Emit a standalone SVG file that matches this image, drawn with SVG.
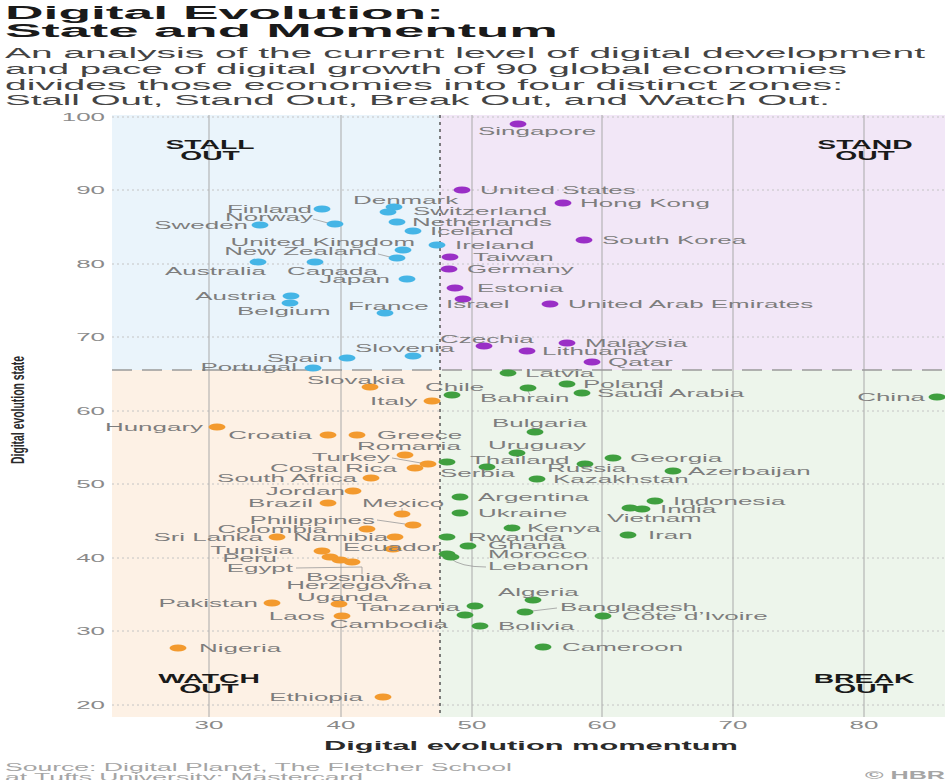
<svg xmlns="http://www.w3.org/2000/svg" width="945" height="780" viewBox="0 0 945 780">
<style>
.t{font-family:"Liberation Sans",Arial,sans-serif;font-size:11px;fill:#7d7d7d}
.e{text-anchor:end}
.m{text-anchor:middle}
.q{font-family:"Liberation Sans",Arial,sans-serif;font-size:12px;font-weight:bold;fill:#1a1a1a;text-anchor:middle}
.db{fill:#45b5e6}.dp{fill:#9a2fc6}.do{fill:#f39a2e}.dg{fill:#3f9f3f}
.tk{font-family:"Liberation Sans",Arial,sans-serif;font-size:11px;fill:#8a8a8a}
</style>
<rect width="945" height="780" fill="#ffffff"/>
<!-- title -->
<g id="title" font-family="'Liberation Sans',Arial,sans-serif">
<text x="5" y="19" font-size="18" font-weight="bold" fill="#1a1a1a" textLength="439" lengthAdjust="spacingAndGlyphs">Digital Evolution:</text>
<text x="5" y="37" font-size="18" font-weight="bold" fill="#1a1a1a" textLength="553" lengthAdjust="spacingAndGlyphs">State and Momentum</text>
<text x="5" y="58" font-size="14" fill="#444" textLength="920" lengthAdjust="spacingAndGlyphs">An analysis of the current level of digital development</text>
<text x="5" y="74" font-size="14" fill="#444" textLength="842" lengthAdjust="spacingAndGlyphs">and pace of digital growth of 90 global economies</text>
<text x="5" y="90" font-size="14" fill="#444" textLength="838" lengthAdjust="spacingAndGlyphs">divides those economies into four distinct zones:</text>
<text x="5" y="105" font-size="14" fill="#444" textLength="825" lengthAdjust="spacingAndGlyphs">Stall Out, Stand Out, Break Out, and Watch Out.</text>
</g>
<!-- plot background -->
<g id="quadrants">
<rect x="112" y="115" width="328" height="255" fill="#eaf4fb"/>
<rect x="440" y="115" width="505" height="255" fill="#f2e7f7"/>
<rect x="112" y="370" width="328" height="347" fill="#fdf1e5"/>
<rect x="440" y="370" width="505" height="347" fill="#edf5eb"/>
</g>
<g id="grid" fill="none">
<g stroke="#c4c4c4" stroke-width="1" stroke-dasharray="2 3">
<line x1="112" y1="117" x2="945" y2="117"/><line x1="112" y1="190" x2="945" y2="190"/><line x1="112" y1="264" x2="945" y2="264"/><line x1="112" y1="337" x2="945" y2="337"/><line x1="112" y1="411" x2="945" y2="411"/><line x1="112" y1="484" x2="945" y2="484"/><line x1="112" y1="558" x2="945" y2="558"/><line x1="112" y1="631" x2="945" y2="631"/><line x1="112" y1="705" x2="945" y2="705"/>
</g>
<g stroke="#a9a9a9" stroke-width="1">
<line x1="209" y1="115" x2="209" y2="717"/><line x1="341" y1="115" x2="341" y2="717"/><line x1="472" y1="115" x2="472" y2="717"/><line x1="602" y1="115" x2="602" y2="717"/><line x1="733" y1="115" x2="733" y2="717"/><line x1="864" y1="115" x2="864" y2="717"/>
</g>
<line x1="112" y1="370" x2="945" y2="370" stroke="#9a9a9a" stroke-width="1.5" stroke-dasharray="20 10"/>
<line x1="440" y1="115" x2="440" y2="717" stroke="#555" stroke-width="1.5" stroke-dasharray="3 4"/>
</g>
<!-- axes -->
<g id="axes">
<text class="tk e" transform="translate(105 121) scale(2.36 1)">100</text>
<text class="tk e" transform="translate(105 194) scale(2.36 1)">90</text>
<text class="tk e" transform="translate(105 268) scale(2.36 1)">80</text>
<text class="tk e" transform="translate(105 341) scale(2.36 1)">70</text>
<text class="tk e" transform="translate(105 415) scale(2.36 1)">60</text>
<text class="tk e" transform="translate(105 488) scale(2.36 1)">50</text>
<text class="tk e" transform="translate(105 562) scale(2.36 1)">40</text>
<text class="tk e" transform="translate(105 635) scale(2.36 1)">30</text>
<text class="tk e" transform="translate(105 709) scale(2.36 1)">20</text>
<text class="tk m" transform="translate(209 729) scale(2.36 1)">30</text>
<text class="tk m" transform="translate(341 729) scale(2.36 1)">40</text>
<text class="tk m" transform="translate(472 729) scale(2.36 1)">50</text>
<text class="tk m" transform="translate(602 729) scale(2.36 1)">60</text>
<text class="tk m" transform="translate(733 729) scale(2.36 1)">70</text>
<text class="tk m" transform="translate(864 729) scale(2.36 1)">80</text>
<text transform="translate(531 750) scale(2.37 1)" font-family="'Liberation Sans',Arial,sans-serif" font-size="13" font-weight="bold" fill="#2a2a2a" text-anchor="middle">Digital evolution momentum</text>
<text transform="translate(24 410) scale(1.7 1) rotate(-90)" font-family="'Liberation Sans',Arial,sans-serif" font-size="10.4" font-weight="bold" fill="#2a2a2a" text-anchor="middle">Digital evolution state</text>
</g>
<g id="zone-labels">
<text class="q" transform="translate(210 149) scale(2.36 1)">STALL</text>
<text class="q" transform="translate(210 160) scale(2.36 1)">OUT</text>
<text class="q" transform="translate(865 149) scale(2.36 1)">STAND</text>
<text class="q" transform="translate(865 160) scale(2.36 1)">OUT</text>
<text class="q" transform="translate(209 683) scale(2.36 1)">WATCH</text>
<text class="q" transform="translate(209 693) scale(2.36 1)">OUT</text>
<text class="q" transform="translate(864 683) scale(2.36 1)">BREAK</text>
<text class="q" transform="translate(864 693) scale(2.36 1)">OUT</text>
</g>
<!-- connectors -->
<g id="connectors" fill="none" stroke="#999" stroke-width="0.8">
<path d="M313 219 L328 223"/>
<path d="M378 254 L390 257"/>
<path d="M392 458 L421 463"/>
<path d="M377 520 L405 524"/>
<path d="M402 508 L402 512"/>
<path d="M296 568 L362 567 L362 574"/>
<path d="M450 558 Q460 567 486 567"/>
<path d="M532 611 L557 608"/>
<path d="M528 391 L530 395"/>
</g>
<!-- STALL OUT -->
<g id="n-finland"><ellipse class="db" cx="322" cy="209" rx="8.5" ry="3.5"/><text class="t e" transform="translate(312 213) scale(2.36 1)">Finland</text></g>
<g id="n-norway"><ellipse class="db" cx="335" cy="224" rx="8.5" ry="3.5"/><text class="t e" transform="translate(313 221) scale(2.36 1)">Norway</text></g>
<g id="n-sweden"><ellipse class="db" cx="260" cy="225" rx="8.5" ry="3.5"/><text class="t e" transform="translate(248 229) scale(2.36 1)">Sweden</text></g>
<g id="n-denmark"><ellipse class="db" cx="394" cy="207" rx="8.5" ry="3.5"/><text class="t" transform="translate(353 204) scale(2.36 1)">Denmark</text></g>
<g id="n-switzerland"><ellipse class="db" cx="388" cy="212" rx="8.5" ry="3.5"/><text class="t" transform="translate(413 215) scale(2.36 1)">Switzerland</text></g>
<g id="n-netherlands"><ellipse class="db" cx="397" cy="222" rx="8.5" ry="3.5"/><text class="t" transform="translate(412 226) scale(2.36 1)">Netherlands</text></g>
<g id="n-iceland"><ellipse class="db" cx="413" cy="231" rx="8.5" ry="3.5"/><text class="t" transform="translate(430 235) scale(2.36 1)">Iceland</text></g>
<g id="n-united-kingdom"><ellipse class="db" cx="403" cy="250" rx="8.5" ry="3.5"/><text class="t e" transform="translate(415 246) scale(2.36 1)">United Kingdom</text></g>
<g id="n-new-zealand"><ellipse class="db" cx="397" cy="258" rx="8.5" ry="3.5"/><text class="t e" transform="translate(377 255) scale(2.36 1)">New Zealand</text></g>
<g id="n-ireland"><ellipse class="db" cx="437" cy="245" rx="8.5" ry="3.5"/><text class="t" transform="translate(455 249) scale(2.36 1)">Ireland</text></g>
<g id="n-australia"><ellipse class="db" cx="258" cy="262" rx="8.5" ry="3.5"/><text class="t e" transform="translate(266 275) scale(2.36 1)">Australia</text></g>
<g id="n-canada"><ellipse class="db" cx="315" cy="262" rx="8.5" ry="3.5"/><text class="t" transform="translate(287 275) scale(2.36 1)">Canada</text></g>
<g id="n-japan"><ellipse class="db" cx="407" cy="279" rx="8.5" ry="3.5"/><text class="t e" transform="translate(390 283) scale(2.36 1)">Japan</text></g>
<g id="n-austria"><ellipse class="db" cx="291" cy="296" rx="8.5" ry="3.5"/><text class="t e" transform="translate(276 300) scale(2.36 1)">Austria</text></g>
<g id="n-belgium"><ellipse class="db" cx="290" cy="303" rx="8.5" ry="3.5"/><text class="t" transform="translate(237 315) scale(2.36 1)">Belgium</text></g>
<g id="n-france"><ellipse class="db" cx="385" cy="313" rx="8.5" ry="3.5"/><text class="t" transform="translate(348 310) scale(2.36 1)">France</text></g>
<g id="n-spain"><ellipse class="db" cx="347" cy="358" rx="8.5" ry="3.5"/><text class="t e" transform="translate(333 362) scale(2.36 1)">Spain</text></g>
<g id="n-slovenia"><ellipse class="db" cx="413" cy="356" rx="8.5" ry="3.5"/><text class="t" transform="translate(355 352) scale(2.36 1)">Slovenia</text></g>
<g id="n-portugal"><ellipse class="db" cx="313" cy="368" rx="8.5" ry="3.5"/><text class="t e" transform="translate(297 371) scale(2.36 1)">Portugal</text></g>
<!-- STAND OUT -->
<g id="n-singapore"><ellipse class="dp" cx="518" cy="124" rx="8.5" ry="3.5"/><text class="t" transform="translate(478 135) scale(2.36 1)">Singapore</text></g>
<g id="n-united-states"><ellipse class="dp" cx="462" cy="190" rx="8.5" ry="3.5"/><text class="t" transform="translate(480 194) scale(2.36 1)">United States</text></g>
<g id="n-hong-kong"><ellipse class="dp" cx="563" cy="203" rx="8.5" ry="3.5"/><text class="t" transform="translate(580 207) scale(2.36 1)">Hong Kong</text></g>
<g id="n-south-korea"><ellipse class="dp" cx="584" cy="240" rx="8.5" ry="3.5"/><text class="t" transform="translate(602 244) scale(2.36 1)">South Korea</text></g>
<g id="n-taiwan"><ellipse class="dp" cx="450" cy="257" rx="8.5" ry="3.5"/><text class="t" transform="translate(473 261) scale(2.36 1)">Taiwan</text></g>
<g id="n-germany"><ellipse class="dp" cx="449" cy="269" rx="8.5" ry="3.5"/><text class="t" transform="translate(467 273) scale(2.36 1)">Germany</text></g>
<g id="n-estonia"><ellipse class="dp" cx="455" cy="288" rx="8.5" ry="3.5"/><text class="t" transform="translate(477 292) scale(2.36 1)">Estonia</text></g>
<g id="n-israel"><ellipse class="dp" cx="463" cy="299" rx="8.5" ry="3.5"/><text class="t" transform="translate(446 308) scale(2.36 1)">Israel</text></g>
<g id="n-uae"><ellipse class="dp" cx="550" cy="304" rx="8.5" ry="3.5"/><text class="t" transform="translate(568 308) scale(2.36 1)">United Arab Emirates</text></g>
<g id="n-czechia"><ellipse class="dp" cx="484" cy="346" rx="8.5" ry="3.5"/><text class="t" transform="translate(440 343) scale(2.36 1)">Czechia</text></g>
<g id="n-malaysia"><ellipse class="dp" cx="567" cy="343" rx="8.5" ry="3.5"/><text class="t" transform="translate(585 347) scale(2.36 1)">Malaysia</text></g>
<g id="n-lithuania"><ellipse class="dp" cx="527" cy="351" rx="8.5" ry="3.5"/><text class="t" transform="translate(542 355) scale(2.36 1)">Lithuania</text></g>
<g id="n-qatar"><ellipse class="dp" cx="592" cy="362" rx="8.5" ry="3.5"/><text class="t" transform="translate(608 366) scale(2.36 1)">Qatar</text></g>
<!-- BREAK OUT -->
<g id="n-latvia"><ellipse class="dg" cx="508" cy="373" rx="8.5" ry="3.5"/><text class="t" transform="translate(525 377) scale(2.36 1)">Latvia</text></g>
<g id="n-poland"><ellipse class="dg" cx="567" cy="384" rx="8.5" ry="3.5"/><text class="t" transform="translate(583 388) scale(2.36 1)">Poland</text></g>
<g id="n-saudi-arabia"><ellipse class="dg" cx="582" cy="393" rx="8.5" ry="3.5"/><text class="t" transform="translate(597 397) scale(2.36 1)">Saudi Arabia</text></g>
<g id="n-chile"><ellipse class="dg" cx="452" cy="395" rx="8.5" ry="3.5"/><text class="t" transform="translate(425 391) scale(2.36 1)">Chile</text></g>
<g id="n-bahrain"><ellipse class="dg" cx="528" cy="388" rx="8.5" ry="3.5"/><text class="t" transform="translate(480 402) scale(2.36 1)">Bahrain</text></g>
<g id="n-china"><ellipse class="dg" cx="937" cy="397" rx="8.5" ry="3.5"/><text class="t e" transform="translate(925 401) scale(2.36 1)">China</text></g>
<g id="n-bulgaria"><ellipse class="dg" cx="535" cy="432" rx="8.5" ry="3.5"/><text class="t" transform="translate(492 427) scale(2.36 1)">Bulgaria</text></g>
<g id="n-uruguay"><ellipse class="dg" cx="517" cy="453" rx="8.5" ry="3.5"/><text class="t" transform="translate(488 449) scale(2.36 1)">Uruguay</text></g>
<g id="n-thailand"><ellipse class="dg" cx="447" cy="462" rx="8.5" ry="3.5"/><text class="t" transform="translate(470 464) scale(2.36 1)">Thailand</text></g>
<g id="n-serbia"><ellipse class="dg" cx="487" cy="467" rx="8.5" ry="3.5"/><text class="t" transform="translate(440 477) scale(2.36 1)">Serbia</text></g>
<g id="n-russia"><ellipse class="dg" cx="585" cy="464" rx="8.5" ry="3.5"/><text class="t" transform="translate(547 472) scale(2.36 1)">Russia</text></g>
<g id="n-georgia"><ellipse class="dg" cx="613" cy="458" rx="8.5" ry="3.5"/><text class="t" transform="translate(630 462) scale(2.36 1)">Georgia</text></g>
<g id="n-azerbaijan"><ellipse class="dg" cx="673" cy="471" rx="8.5" ry="3.5"/><text class="t" transform="translate(688 475) scale(2.36 1)">Azerbaijan</text></g>
<g id="n-kazakhstan"><ellipse class="dg" cx="537" cy="479" rx="8.5" ry="3.5"/><text class="t" transform="translate(553 483) scale(2.36 1)">Kazakhstan</text></g>
<g id="n-argentina"><ellipse class="dg" cx="460" cy="497" rx="8.5" ry="3.5"/><text class="t" transform="translate(478 501) scale(2.36 1)">Argentina</text></g>
<g id="n-indonesia"><ellipse class="dg" cx="655" cy="501" rx="8.5" ry="3.5"/><text class="t" transform="translate(673 505) scale(2.36 1)">Indonesia</text></g>
<g id="n-india"><ellipse class="dg" cx="642" cy="509" rx="8.5" ry="3.5"/><text class="t" transform="translate(660 513) scale(2.36 1)">India</text></g>
<g id="n-vietnam"><ellipse class="dg" cx="630" cy="508" rx="8.5" ry="3.5"/><text class="t" transform="translate(607 522) scale(2.36 1)">Vietnam</text></g>
<g id="n-ukraine"><ellipse class="dg" cx="460" cy="513" rx="8.5" ry="3.5"/><text class="t" transform="translate(478 517) scale(2.36 1)">Ukraine</text></g>
<g id="n-kenya"><ellipse class="dg" cx="512" cy="528" rx="8.5" ry="3.5"/><text class="t" transform="translate(527 532) scale(2.36 1)">Kenya</text></g>
<g id="n-iran"><ellipse class="dg" cx="628" cy="535" rx="8.5" ry="3.5"/><text class="t" transform="translate(648 539) scale(2.36 1)">Iran</text></g>
<g id="n-rwanda"><ellipse class="dg" cx="447" cy="537" rx="8.5" ry="3.5"/><text class="t" transform="translate(468 541) scale(2.36 1)">Rwanda</text></g>
<g id="n-ghana"><ellipse class="dg" cx="468" cy="546" rx="8.5" ry="3.5"/><text class="t" transform="translate(488 549) scale(2.36 1)">Ghana</text></g>
<g id="n-morocco"><ellipse class="dg" cx="447" cy="554" rx="8.5" ry="3.5"/><text class="t" transform="translate(488 558) scale(2.36 1)">Morocco</text></g>
<g id="n-lebanon"><ellipse class="dg" cx="451" cy="557" rx="8.5" ry="3.5"/><text class="t" transform="translate(488 570) scale(2.36 1)">Lebanon</text></g>
<g id="n-algeria"><ellipse class="dg" cx="533" cy="600" rx="8.5" ry="3.5"/><text class="t" transform="translate(498 596) scale(2.36 1)">Algeria</text></g>
<g id="n-tanzania"><ellipse class="dg" cx="475" cy="606" rx="8.5" ry="3.5"/><text class="t e" transform="translate(460 611) scale(2.36 1)">Tanzania</text></g>
<g id="n-bangladesh"><ellipse class="dg" cx="525" cy="612" rx="8.5" ry="3.5"/><text class="t" transform="translate(560 611) scale(2.36 1)">Bangladesh</text></g>
<g id="n-cote-divoire"><ellipse class="dg" cx="603" cy="616" rx="8.5" ry="3.5"/><text class="t" transform="translate(622 620) scale(2.36 1)">Côte d’Ivoire</text></g>
<g id="n-cambodia"><ellipse class="dg" cx="465" cy="615" rx="8.5" ry="3.5"/><text class="t e" transform="translate(448 628) scale(2.36 1)">Cambodia</text></g>
<g id="n-bolivia"><ellipse class="dg" cx="480" cy="626" rx="8.5" ry="3.5"/><text class="t" transform="translate(498 630) scale(2.36 1)">Bolivia</text></g>
<g id="n-cameroon"><ellipse class="dg" cx="543" cy="647" rx="8.5" ry="3.5"/><text class="t" transform="translate(562 651) scale(2.36 1)">Cameroon</text></g>
<!-- WATCH OUT -->
<g id="n-slovakia"><ellipse class="do" cx="370" cy="387" rx="8.5" ry="3.5"/><text class="t" transform="translate(307 384) scale(2.36 1)">Slovakia</text></g>
<g id="n-italy"><ellipse class="do" cx="432" cy="401" rx="8.5" ry="3.5"/><text class="t" transform="translate(370 405) scale(2.36 1)">Italy</text></g>
<g id="n-hungary"><ellipse class="do" cx="217" cy="427" rx="8.5" ry="3.5"/><text class="t e" transform="translate(203 431) scale(2.36 1)">Hungary</text></g>
<g id="n-croatia"><ellipse class="do" cx="328" cy="435" rx="8.5" ry="3.5"/><text class="t e" transform="translate(312 439) scale(2.36 1)">Croatia</text></g>
<g id="n-greece"><ellipse class="do" cx="357" cy="435" rx="8.5" ry="3.5"/><text class="t" transform="translate(377 439) scale(2.36 1)">Greece</text></g>
<g id="n-romania"><ellipse class="do" cx="405" cy="455" rx="8.5" ry="3.5"/><text class="t" transform="translate(357 450) scale(2.36 1)">Romania</text></g>
<g id="n-turkey"><ellipse class="do" cx="428" cy="464" rx="8.5" ry="3.5"/><text class="t e" transform="translate(390 461) scale(2.36 1)">Turkey</text></g>
<g id="n-costa-rica"><ellipse class="do" cx="415" cy="468" rx="8.5" ry="3.5"/><text class="t e" transform="translate(397 472) scale(2.36 1)">Costa Rica</text></g>
<g id="n-south-africa"><ellipse class="do" cx="371" cy="478" rx="8.5" ry="3.5"/><text class="t e" transform="translate(357 482) scale(2.36 1)">South Africa</text></g>
<g id="n-jordan"><ellipse class="do" cx="353" cy="491" rx="8.5" ry="3.5"/><text class="t e" transform="translate(345 495) scale(2.36 1)">Jordan</text></g>
<g id="n-brazil"><ellipse class="do" cx="328" cy="503" rx="8.5" ry="3.5"/><text class="t e" transform="translate(313 507) scale(2.36 1)">Brazil</text></g>
<g id="n-mexico"><ellipse class="do" cx="402" cy="514" rx="8.5" ry="3.5"/><text class="t" transform="translate(362 507) scale(2.36 1)">Mexico</text></g>
<g id="n-philippines"><ellipse class="do" cx="413" cy="525" rx="8.5" ry="3.5"/><text class="t e" transform="translate(375 524) scale(2.36 1)">Philippines</text></g>
<g id="n-colombia"><ellipse class="do" cx="367" cy="529" rx="8.5" ry="3.5"/><text class="t e" transform="translate(327 533) scale(2.36 1)">Colombia</text></g>
<g id="n-sri-lanka"><ellipse class="do" cx="277" cy="537" rx="8.5" ry="3.5"/><text class="t e" transform="translate(263 541) scale(2.36 1)">Sri Lanka</text></g>
<g id="n-namibia"><ellipse class="do" cx="395" cy="537" rx="8.5" ry="3.5"/><text class="t" transform="translate(293 541) scale(2.36 1)">Namibia</text></g>
<g id="n-ecuador"><ellipse class="do" cx="393" cy="549" rx="8.5" ry="3.5"/><text class="t" transform="translate(343 551) scale(2.36 1)">Ecuador</text></g>
<g id="n-tunisia"><ellipse class="do" cx="322" cy="551" rx="8.5" ry="3.5"/><text class="t e" transform="translate(293 554) scale(2.36 1)">Tunisia</text></g>
<g id="n-peru"><ellipse class="do" cx="330" cy="557" rx="8.5" ry="3.5"/><text class="t e" transform="translate(277 562) scale(2.36 1)">Peru</text></g>
<g id="n-egypt"><ellipse class="do" cx="340" cy="560" rx="8.5" ry="3.5"/><text class="t e" transform="translate(293 572) scale(2.36 1)">Egypt</text></g>
<g id="n-bosnia"><ellipse class="do" cx="352" cy="562" rx="8.5" ry="3.5"/><text class="t m" transform="translate(358 581) scale(2.36 1)">Bosnia &amp;</text><text class="t m" transform="translate(359 589) scale(2.36 1)">Herzegovina</text></g>
<g id="n-uganda"><ellipse class="do" cx="339" cy="604" rx="8.5" ry="3.5"/><text class="t" transform="translate(297 601) scale(2.36 1)">Uganda</text></g>
<g id="n-pakistan"><ellipse class="do" cx="272" cy="603" rx="8.5" ry="3.5"/><text class="t e" transform="translate(258 607) scale(2.36 1)">Pakistan</text></g>
<g id="n-laos"><ellipse class="do" cx="342" cy="616" rx="8.5" ry="3.5"/><text class="t e" transform="translate(325 620) scale(2.36 1)">Laos</text></g>
<g id="n-nigeria"><ellipse class="do" cx="178" cy="648" rx="8.5" ry="3.5"/><text class="t" transform="translate(199 652) scale(2.36 1)">Nigeria</text></g>
<g id="n-ethiopia"><ellipse class="do" cx="383" cy="697" rx="8.5" ry="3.5"/><text class="t e" transform="translate(363 701) scale(2.36 1)">Ethiopia</text></g>
<!-- footer -->
<g id="footer" font-family="'Liberation Sans',Arial,sans-serif" font-size="10" fill="#a5a5a5">
<text x="5" y="771" textLength="507" lengthAdjust="spacingAndGlyphs">Source: Digital Planet, The Fletcher School</text>
<text x="5" y="781" textLength="358" lengthAdjust="spacingAndGlyphs">at Tufts University; Mastercard</text>
<text x="865" y="779" textLength="80" lengthAdjust="spacingAndGlyphs" font-weight="bold">© HBR</text>
</g>
</svg>
